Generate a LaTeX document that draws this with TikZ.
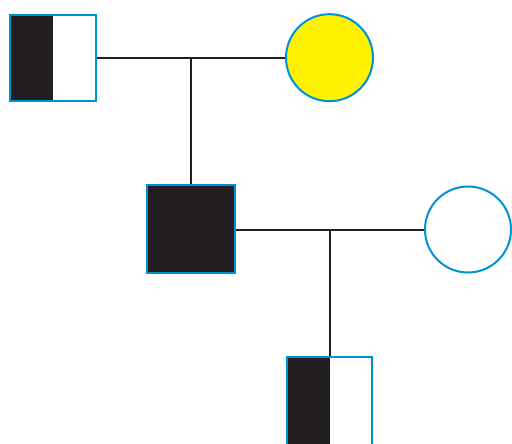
\documentclass[tikz,border=0pt]{standalone}
\definecolor{pedblue}{RGB}{0,146,214}
\definecolor{pedblack}{RGB}{35,31,32}
\definecolor{pedyellow}{RGB}{255,242,0}
\tikzset{
  person/.style={draw=pedblue, line width=2pt, inner sep=0pt},
  male/.style={person, rectangle, minimum size=86pt},
  female/.style={person, circle, minimum size=87pt},
  affected/.style={fill=pedblack},
  carrier/.style={fill=white, path picture={
     \fill[pedblack] (path picture bounding box.south west) rectangle (path picture bounding box.north);}},
  link/.style={draw=pedblack, line width=2pt}
}
\begin{document}
\begin{tikzpicture}[x=1pt,y=-1pt]
\useasboundingbox (0,0) rectangle (512,444);
\clip (0,0) rectangle (512,444);
\node[male, carrier] (f1) at (53.4,57.7) {};
\node[female, fill=pedyellow] (m1) at (329.5,57.7) {};
\node[male, affected, minimum size=88pt] (c1) at (191,228.9) {};
\node[female, fill=white, minimum size=86pt] (m2) at (468,229.5) {};
\node[male, carrier, minimum width=85.5pt, minimum height=92pt] (c2) at (329.6,402.7) {};
\coordinate (j1) at (191,57.7);
\coordinate (j2) at (329.6,229.5);
\draw[link] (f1.east) -- (m1.west);
\draw[link] (j1) -- (c1.north);
\draw[link] (c1.east |- m2.west) -- (m2.west);
\draw[link] (j2) -- (c2.north);
\end{tikzpicture}
\end{document}
